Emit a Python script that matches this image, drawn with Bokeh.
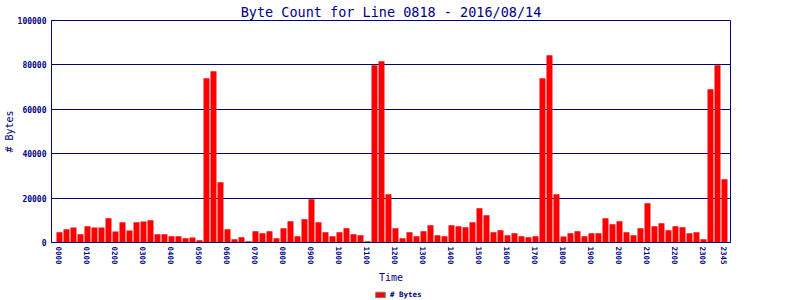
from bokeh.plotting import figure
from bokeh.layouts import column
from bokeh.models import Range1d, FixedTicker, Legend, LegendItem, ColumnDataSource
from bokeh.embed import file_html
from bokeh.resources import INLINE

# 15-minute slots, 0000 .. 2345
times = [f"{h:02d}{m:02d}" for h in range(24) for m in (0, 15, 30, 45)]
byte_counts = [
    4650, 6000, 6750, 3750, 7350, 6750, 6750, 10950, 4950, 9150, 5400, 9150,
    9450, 10050, 3750, 3750, 2850, 2850, 1950, 2250, 1050, 73950, 77100, 27150,
    6000, 1500, 2400, 600, 5100, 4200, 5100, 1950, 6450, 9600, 2850, 10500,
    19500, 9150, 4650, 2850, 4650, 6450, 3750, 3300, 600, 79800, 81600, 21750,
    6450, 1950, 4650, 2850, 5100, 7800, 3300, 2850, 7800, 7350, 6900, 9150,
    15450, 12300, 4650, 5550, 3300, 4200, 2850, 2400, 2850, 73950, 84300, 21750,
    2700, 4200, 5100, 2850, 4200, 4200, 10950, 8250, 9600, 4650, 3300, 6450,
    17700, 7350, 8700, 5550, 7350, 6900, 4200, 4650, 1500, 69000, 79800, 28500,
]
tick_idx = list(range(0, 96, 4)) + [95]
y_ticks = [0, 20000, 40000, 60000, 80000, 100000]
series_name = "# Bytes"

NAVY = "#000080"
RED = "#ff0000"
MONO = "DejaVu Sans Mono"

idx = list(range(len(times)))
src = ColumnDataSource(dict(x=idx, top=byte_counts, t=times))

p = figure(width=800, height=288, output_backend="svg", toolbar_location=None,
           x_range=Range1d(-1.14, 95.86), y_range=Range1d(0, 100000),
           min_border_left=51, min_border_right=70, min_border_top=20,
           min_border_bottom=46)

p.title.text = "Byte Count for Line 0818 - 2016/08/14"
p.title.align = "center"
p.title.text_color = NAVY
p.title.text_font = MONO
p.title.text_font_size = "13.5px"
p.title.text_font_style = "normal"
p.title.standoff = 2
p.title.offset = 4

r = p.vbar(x="x", top="top", width=0.857, source=src, fill_color=RED,
           line_color=None)

p.outline_line_color = NAVY
p.outline_line_width = 1
p.background_fill_color = "white"
p.border_fill_color = "white"

p.xgrid.grid_line_color = None
p.ygrid.grid_line_color = NAVY
p.ygrid.grid_line_width = 1
p.ygrid.ticker = FixedTicker(ticks=y_ticks)

yax = p.yaxis[0]
yax.ticker = FixedTicker(ticks=y_ticks)
yax.formatter.use_scientific = False
yax.axis_line_color = NAVY
yax.major_tick_line_color = None
yax.minor_tick_line_color = None
yax.major_tick_out = 0
yax.major_tick_in = 0
yax.major_label_standoff = 5
yax.major_label_text_color = NAVY
yax.major_label_text_font = MONO
yax.major_label_text_font_size = "8px"
yax.major_label_text_font_style = "bold"
yax.axis_label = "# Bytes"
yax.axis_label_text_color = NAVY
yax.axis_label_text_font = MONO
yax.axis_label_text_font_size = "10px"
yax.axis_label_text_font_style = "normal"
yax.axis_label_standoff = 0

xax = p.xaxis[0]
xax.ticker = FixedTicker(ticks=tick_idx)
xax.major_label_overrides = {i: times[i] for i in tick_idx}
xax.major_label_orientation = "vertical"
xax.axis_line_color = NAVY
xax.major_tick_line_color = None
xax.minor_tick_line_color = None
xax.major_tick_out = 0
xax.major_tick_in = 0
xax.major_label_standoff = 4
xax.major_label_text_color = NAVY
xax.major_label_text_font = MONO
xax.major_label_text_font_size = "7.5px"
xax.major_label_text_font_style = "bold"
xax.axis_label = "Time"
xax.axis_label_text_color = NAVY
xax.axis_label_text_font = MONO
xax.axis_label_text_font_size = "10px"
xax.axis_label_text_font_style = "normal"
xax.axis_label_standoff = 4

# legend strip below the chart (its frame is aligned with the chart's frame;
# the sample bar sits below the strip's visible y-range)
lg = figure(width=800, height=12, output_backend="svg", toolbar_location=None,
            x_range=Range1d(0, 1), y_range=Range1d(0, 1),
            min_border_left=51, min_border_right=70, min_border_top=0,
            min_border_bottom=0)
lg.axis.visible = False
lg.grid.visible = False
lg.outline_line_color = None
lg.background_fill_color = "white"
lg.border_fill_color = "white"
dummy = lg.vbar(x=[0.5], bottom=[-10], top=[-9], width=0.01, fill_color=RED,
                line_color="#808080", line_width=1)

legend = Legend(items=[LegendItem(label=series_name, renderers=[dummy])],
                orientation="horizontal", location=(323, 1),
                border_line_color=None, background_fill_alpha=0,
                label_text_font=MONO, label_text_font_size="7.5px",
                label_text_font_style="bold", label_text_color=NAVY,
                glyph_width=12, glyph_height=7, label_standoff=4,
                padding=0, margin=0, spacing=0, label_height=7)
lg.add_layout(legend, "center")

layout = column(p, lg, spacing=0)
open("out.html", "w").write(file_html(layout, INLINE))
